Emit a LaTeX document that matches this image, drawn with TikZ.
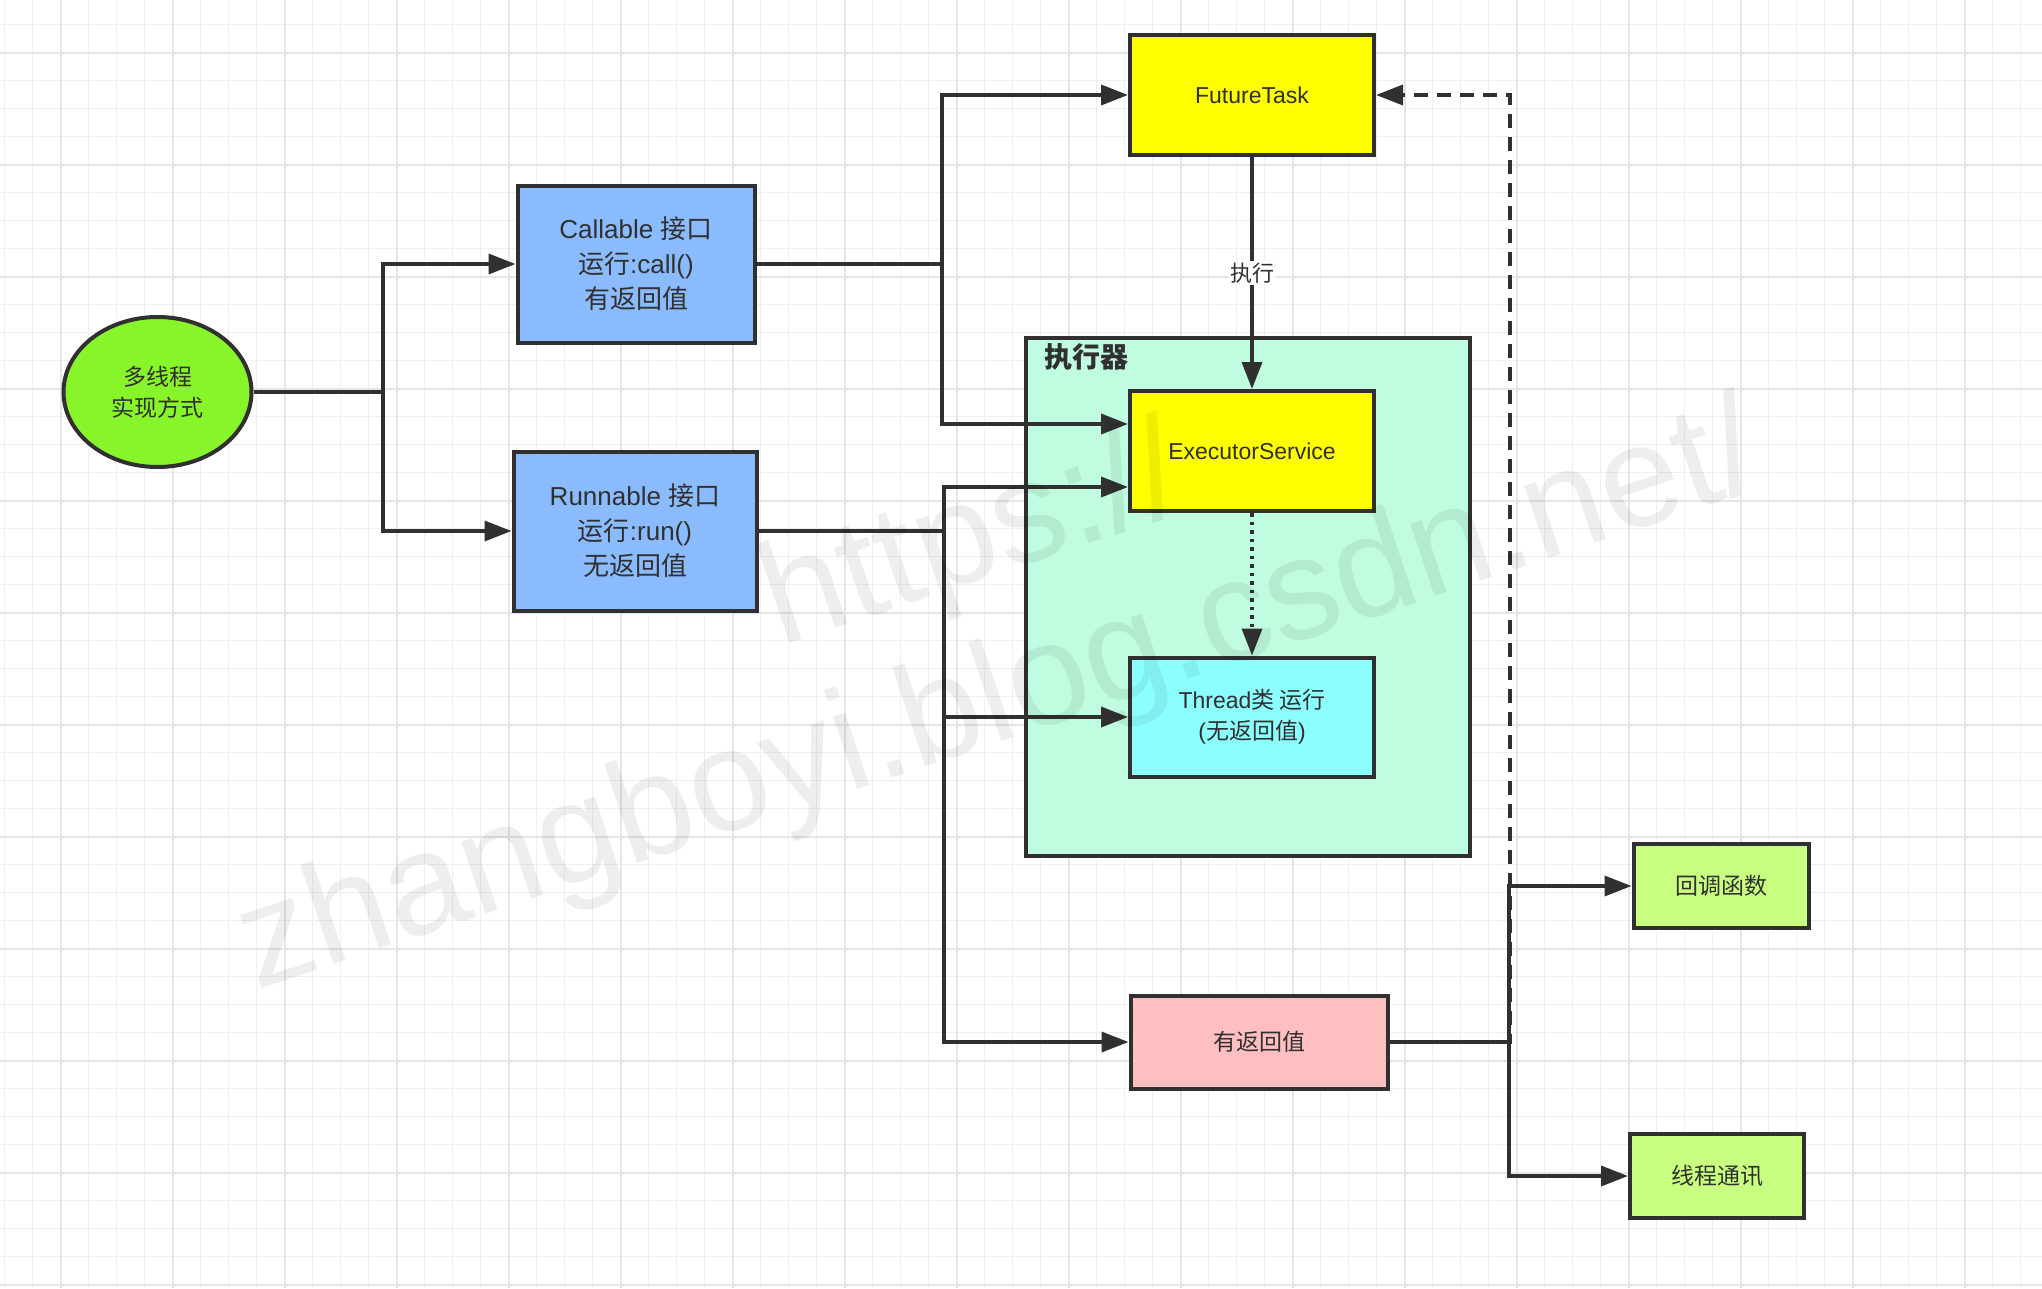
\documentclass[tikz,border=0pt]{standalone}
\usepackage{fontspec}
\setmainfont{Liberation Sans}
\newfontfamily\cjk{Noto Sans CJK SC}
\usetikzlibrary{arrows.meta,shapes.geometric}
\definecolor{ink}{HTML}{303030}
\definecolor{ellfill}{HTML}{88F52A}
\definecolor{bluefill}{HTML}{8ABBFF}
\definecolor{yelfill}{HTML}{FFFF00}
\definecolor{mintfill}{HTML}{C0FCE0}
\definecolor{cyanfill}{HTML}{8CFFFF}
\definecolor{pinkfill}{HTML}{FFBFC0}
\definecolor{limefill}{HTML}{C8FF80}
\definecolor{gridminor}{HTML}{EFEFEF}
\definecolor{gridmajor}{HTML}{E5E5E5}
\begin{document}
\begin{tikzpicture}[x=1pt,y=-1pt,
  box/.style={draw=ink, line width=4pt, text=ink, align=center, inner sep=0pt,
    font=\fontsize{23}{31}\selectfont},
  bigbox/.style={box, fill=bluefill, font=\fontsize{26}{35}\selectfont},
  conn/.style={draw=ink, line width=3.6pt, -{Triangle[length=27pt,width=20pt]}},
  lbl/.style={fill=white, text=ink, inner sep=2pt, font=\fontsize{22}{26}\selectfont\cjk},
  wmark/.style={text=black, opacity=0.065, rotate=18.5, anchor=base, inner sep=0pt,
    font=\fontsize{144}{144}\selectfont}
  ]
\fill[white] (0,0) rectangle (2042,1288);
\useasboundingbox (0,0) rectangle (2042,1288);
% grid
\foreach \k in {0,...,72} \draw[gridminor, line width=1.5pt] ({4.5+28*\k},0) -- ({4.5+28*\k},1288);
\foreach \k in {0,...,45} \draw[gridminor, line width=1.5pt] (0,{24.6+28*\k}) -- (2042,{24.6+28*\k});
\foreach \k in {0,...,17} \draw[gridmajor, line width=2pt] ({60.5+112*\k},0) -- ({60.5+112*\k},1288);
\foreach \k in {0,...,11} \draw[gridmajor, line width=2pt] (0,{52.6+112*\k}) -- (2042,{52.6+112*\k});

% container
\node[box, fill=mintfill, minimum width=444pt, minimum height=518pt] (exec) at (1248,597) {};
\node[anchor=west, text=ink, inner sep=0pt, font=\fontsize{28}{30}\selectfont\cjk\bfseries] (execlbl) at (1044,357) {执行器};

% nodes
\node[ellipse, draw=ink, line width=4pt, fill=ellfill, text=ink, align=center, inner sep=0pt,
  minimum width=188pt, minimum height=150pt, font=\fontsize{23}{31}\selectfont\cjk] (ell) at (157.5,392) {多线程\\实现方式};
\node[bigbox, minimum width=237pt, minimum height=157pt] (call) at (636,264) {Callable {\cjk 接口}\\{\cjk 运行}:call()\\{\cjk 有返回值}};
\node[bigbox, minimum width=243pt, minimum height=159pt] (run) at (635,531) {Runnable {\cjk 接口}\\{\cjk 运行}:run()\\{\cjk 无返回值}};
\node[box, fill=yelfill, minimum width=244pt, minimum height=120pt] (ft) at (1252,95) {FutureTask};
\node[box, fill=yelfill, minimum width=244pt, minimum height=120pt] (es) at (1252,451) {ExecutorService};
\node[box, fill=cyanfill, minimum width=244pt, minimum height=119pt] (th) at (1252,717) {Thread{\cjk 类 运行}\\({\cjk 无返回值})};
\node[box, fill=pinkfill, minimum width=257pt, minimum height=93pt, font=\fontsize{23}{31}\selectfont\cjk] (pk) at (1259,1042) {有返回值};
\node[box, fill=limefill, minimum width=175pt, minimum height=84pt, font=\fontsize{23}{31}\selectfont\cjk] (cb) at (1721,886) {回调函数};
\node[box, fill=limefill, minimum width=174pt, minimum height=84pt, font=\fontsize{23}{31}\selectfont\cjk] (tc) at (1717,1176) {线程通讯};

% branch points
\coordinate (b1) at (383,392);
\coordinate (b2) at (942,264);
\coordinate (b3) at (944,531);
\coordinate (b4) at (1510,1042);
\coordinate (b5) at (1509,1042);

% connectors
\draw[conn] (ell.east) -- (b1) |- (call.west);
\draw[conn] (b1) |- (run.west);
\draw[conn] (call.east) -- (b2) |- (ft.west);
\draw[conn] (b2) |- ([yshift=27pt]es.west);
\draw[conn] (run.east) -- (b3) |- ([yshift=-36pt]es.west);
\draw[conn] (b3) |- (th.west);
\draw[conn] (b3) |- (pk.west);
\draw[conn] (ft.south) -- node[lbl] (exlbl) {执行} (es.north);
\draw[conn, dash pattern=on 3.5pt off 5pt] (es.south) -- (th.north);
\draw[conn, dash pattern=on 14pt off 9pt] (pk.east) -- (b4) |- (ft.east);
\draw[conn] (pk.east) -- (b5) |- (cb.west);
\draw[conn] (b5) |- (tc.west);

% watermark
\node[wmark] (wm1) at (985,578) {https://};
\node[wmark] (wm2) at (1012,738) {zhangboyi.blog.csdn.net/};
\end{tikzpicture}
\end{document}
